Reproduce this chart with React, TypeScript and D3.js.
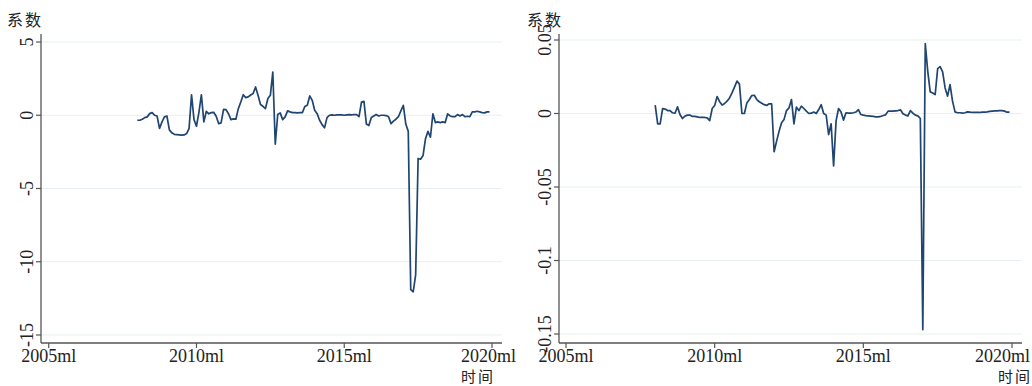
import React from "react";
import * as d3 from "d3";

// Monthly coefficients, 2008m1 .. 2019m12
const startYear = 2008;
const leftCoef = [
  -0.34, -0.34, -0.27, -0.16, -0.11, 0.11, 0.18, 0.0, -0.05, -0.9, -0.45, -0.11,
  -0.05, -1.0, -1.2, -1.3, -1.32, -1.34, -1.36, -1.34, -1.25, -0.9, 1.4, -0.3,
  -0.75, 0.2, 1.4, -0.45, 0.27, 0.1, 0.18, 0.2, -0.07, -0.57, -0.52, 0.4,
  0.38, 0.1, -0.3, -0.25, -0.27, 0.45, 0.9, 1.4, 1.2, 1.25, 1.38, 1.48,
  1.93, 1.36, 0.73, 0.61, 0.45, 1.14, 1.36, 2.95, -1.98, 0.05, 0.16, -0.3,
  -0.11, 0.3, 0.23, 0.18, 0.18, 0.16, 0.18, 0.18, 0.6, 0.68, 1.32, 1.02,
  0.34, 0.11, -0.34, -0.64, -0.86, -0.16, 0.0, 0.02, 0.0, 0.02, 0.03, 0.02,
  0.0, 0.03, 0.04, 0.03, 0.05, 0.04, -0.1, 0.9, 0.95, -0.6, -0.7, -0.15,
  -0.05, 0.05, -0.05, 0.0, 0.0, -0.02, -0.1, -0.57, -0.4, -0.27, -0.1, 0.3,
  0.68, -0.6, -1.1, -11.9, -12.05, -10.9, -2.95, -3.0, -2.75, -1.6, -1.1, -1.5,
  0.1, -0.5, -0.45, -0.5, -0.45, -0.5, 0.1, -0.05, -0.1, -0.1, 0.05, -0.05,
  0.05, -0.1, -0.07, -0.1, 0.23, 0.23, 0.27, 0.23, 0.18, 0.16, 0.23, 0.23,
];
const rightCoef = [
  0.0057, -0.007, -0.007, 0.0034, 0.003, 0.002, 0.002, 0.0005, 0.0002, 0.0045, -0.0007, -0.0034,
  -0.0018, -0.0011, -0.0011, -0.002, -0.002, -0.0023, -0.0027, -0.0027, -0.0027, -0.003, -0.0048, 0.0034,
  0.0054, 0.0115, 0.008, 0.0057, 0.0068, 0.0084, 0.0106, 0.014, 0.0179, 0.022, 0.02, 0.0,
  0.0, 0.0072, 0.0095, 0.0122, 0.0124, 0.0095, 0.008, 0.007, 0.006, 0.0055, 0.0066, 0.0066,
  -0.026, -0.0188, -0.012, -0.0063, -0.004, 0.002, 0.0038, 0.0095, -0.007, 0.0043, 0.002, 0.005,
  0.0034, 0.0016, 0.0, 0.0002, 0.001, 0.0, 0.0027, 0.006, 0.0, -0.0011, -0.0143, -0.007,
  -0.0357, -0.005, 0.0034, 0.001, -0.0045, 0.0005, 0.0002, 0.0002, 0.0005, 0.001, 0.0027, -0.0007,
  -0.0011, -0.0014, -0.0016, -0.0018, -0.002, -0.0023, -0.0023, -0.002, -0.0014, -0.0009, 0.0016, 0.0016,
  0.0016, 0.0018, 0.002, 0.0025, -0.0002, -0.0011, -0.0016, 0.002, 0.0002, -0.0011, -0.0016, -0.0034,
  -0.147, 0.0475, 0.0287, 0.0147, 0.014, 0.0129, 0.0305, 0.0319, 0.0283, 0.0174, 0.0118, 0.0197,
  0.0084, 0.0011, 0.0005, 0.0005, 0.0002, 0.0005, 0.0011, 0.0009, 0.0007, 0.0007, 0.0007, 0.0007,
  0.0009, 0.0009, 0.0011, 0.0014, 0.0016, 0.0018, 0.0018, 0.002, 0.002, 0.0016, 0.0009, 0.0009,
];
const xTickYears = [2005, 2010, 2015, 2020];
const xTickLabels = ["2005ml", "2010ml", "2015ml", "2020ml"];
const leftYTicks = [5, 0, -5, -10, -15];
const leftYLabels = ["5", "0", "-5", "-10", "-15"];
const rightYTicks = [0.05, 0, -0.05, -0.1, -0.15];
const rightYLabels = ["0.05", "0", "-0.05", "-0.1", "-0.15"];
const yTitle = "系数";
const xTitle = "时间";

const LINE = "#1f4570";
const GRID = "#e6eff1";
const AXIS = "#555555";
const TEXT = "#222222";
const SERIF = "'Liberation Serif', 'DejaVu Serif', serif";
const CJK = "'Noto Sans CJK SC', sans-serif";
const FS = 18;

type PanelProps = {
  values: number[];
  yTicks: number[];
  yLabels: string[];
  yDomain: [number, number];
  axisX: number;
  plotRight: number;
  x0: number; // pixel of 2005m1
  x1: number; // pixel of 2020m1
  yTop: number; // pixel of top tick
  yBot: number; // pixel of bottom tick
  labelX: number;
  yTitleX: number;
  xTitleX: number;
  lastLabelEnd: number;
};

function Panel(p: PanelProps) {
  const axisTop = 34;
  const axisBottom = 343;
  const x = d3.scaleLinear().domain([0, 180]).range([p.x0, p.x1]);
  const y = d3.scaleLinear().domain(p.yDomain).range([p.yBot, p.yTop]);
  const pts = p.values.map((v, i) => [(startYear - 2005) * 12 + i, v] as [number, number]);
  const line = d3
    .line<[number, number]>()
    .x((d) => x(d[0]))
    .y((d) => y(d[1]));
  return (
    <g>
      {p.yTicks.map((t) => (
        <line key={"g" + t} x1={p.axisX} x2={p.plotRight} y1={y(t)} y2={y(t)} stroke={GRID} strokeWidth={1.2} />
      ))}
      <path d={line(pts) || ""} fill="none" stroke={LINE} strokeWidth={1.7} strokeLinejoin="round" />
      <line x1={p.axisX} x2={p.axisX} y1={axisTop} y2={axisBottom} stroke={AXIS} strokeWidth={1.3} />
      <line x1={p.axisX} x2={p.plotRight} y1={axisBottom} y2={axisBottom} stroke={AXIS} strokeWidth={1.3} />
      {p.yTicks.map((t, i) => (
        <g key={"yt" + t}>
          <line x1={p.axisX - 5} x2={p.axisX} y1={y(t)} y2={y(t)} stroke={AXIS} strokeWidth={1.2} />
          <text
            transform={`translate(${p.labelX},${y(t)}) rotate(-90)`}
            textAnchor="middle"
            fontFamily={SERIF}
            fontSize={FS}
            fill={TEXT}
          >
            {p.yLabels[i]}
          </text>
        </g>
      ))}
      {xTickYears.map((yr, i) => {
        const px = x((yr - 2005) * 12);
        const last = i === xTickYears.length - 1;
        return (
          <g key={"xt" + yr}>
            <line x1={px} x2={px} y1={axisBottom} y2={axisBottom + 5} stroke={AXIS} strokeWidth={1.2} />
            <text
              x={last ? p.lastLabelEnd : px}
              y={362}
              textAnchor={last ? "end" : "middle"}
              fontFamily={SERIF}
              fontSize={FS}
              fill={TEXT}
            >
              {xTickLabels[i]}
            </text>
          </g>
        );
      })}
      <text x={p.yTitleX} y={26} fontFamily={CJK} fontSize={16} fill={TEXT} letterSpacing={2}>
        {yTitle}
      </text>
      <text x={p.xTitleX} y={382} fontFamily={CJK} fontSize={15} fill={TEXT} letterSpacing={2}>
        {xTitle}
      </text>
    </g>
  );
}

export default function App() {
  return (
    <svg
      width={1032}
      height={386}
      style={{ position: "fixed", left: 0, top: 0, background: "#ffffff" }}
    >
      <rect width={1032} height={386} fill="#ffffff" />
      <Panel
        values={leftCoef}
        yTicks={leftYTicks}
        yLabels={leftYLabels}
        yDomain={[-15, 5]}
        axisX={41}
        plotRight={502}
        x0={48.7}
        x1={492}
        yTop={42}
        yBot={335}
        labelX={33}
        yTitleX={7}
        xTitleX={461}
        lastLabelEnd={516}
      />
      <Panel
        values={rightCoef}
        yTicks={rightYTicks}
        yLabels={rightYLabels}
        yDomain={[-0.15, 0.05]}
        axisX={559}
        plotRight={1022}
        x0={566}
        x1={1012}
        yTop={40}
        yBot={334}
        labelX={551}
        yTitleX={527}
        xTitleX={998}
        lastLabelEnd={1030}
      />
    </svg>
  );
}
